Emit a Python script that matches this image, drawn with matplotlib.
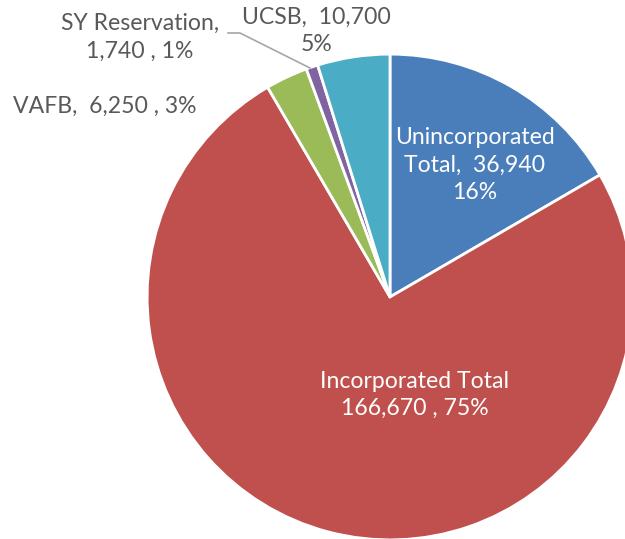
"""Pie chart of population by area, Excel-like styling."""

import matplotlib.pyplot as plt

CATEGORIES = ["Unincorporated Total", "Incorporated Total", "VAFB",
              "SY Reservation", "UCSB"]
VALUES = [36940, 166670, 6250, 1740, 10700]
PERCENTS = ["16%", "75%", "3%", "1%", "5%"]
COLORS = ["#4a7ebb", "#c0504d", "#9bbb59", "#8064a2", "#4bacc6"]


def main() -> None:
    plt.rcParams["font.family"] = ["Lato", "DejaVu Sans"]
    fig = plt.figure(figsize=(6.25, 5.39), dpi=100)
    ax = fig.add_axes([0, 0, 1, 1])

    ax.pie(
        VALUES,
        colors=COLORS,
        startangle=90,
        counterclock=False,
        radius=1.012,
        wedgeprops={"edgecolor": "white", "linewidth": 2},
    )

    # 1 data unit = 240 px, centre at (390, 297) px from top-left
    ax.set_xlim(-390 / 240, (625 - 390) / 240)
    ax.set_ylim(-(539 - 297) / 240, 297 / 240)
    ax.set_aspect("equal")
    ax.axis("off")

    fs = 16.6
    ls = 1.4
    grey = "#595959"

    ax.text(0.354, 0.55, f"Unincorporated\nTotal,  {VALUES[0]:,}\n{PERCENTS[0]}",
            ha="center", va="center", color="white", fontsize=fs,
            linespacing=ls)
    ax.text(0.104, -0.408, f"Incorporated Total\n{VALUES[1]:,} , {PERCENTS[1]}",
            ha="center", va="center", color="white", fontsize=fs,
            linespacing=ls)
    ax.text(-1.1875, 0.796, f"VAFB,  {VALUES[2]:,} , {PERCENTS[2]}",
            ha="center", va="center", color=grey, fontsize=fs)
    ax.text(-1.042, 1.083, f"SY Reservation,\n{VALUES[3]:,} , {PERCENTS[3]}",
            ha="center", va="center", color=grey, fontsize=fs,
            linespacing=ls)
    ax.text(-0.308, 1.108, f"UCSB,  {VALUES[4]:,}\n{PERCENTS[4]}",
            ha="center", va="center", color=grey, fontsize=fs,
            linespacing=ls)

    # leader line for the small slice
    ax.plot([(228 - 390) / 240, (240 - 390) / 240, (310 - 390) / 240],
            [(297 - 33) / 240, (297 - 33) / 240, (297 - 68) / 240],
            color="#a6a6a6", linewidth=1.2)

    fig.savefig("out.png", dpi=100)


if __name__ == "__main__":
    main()
